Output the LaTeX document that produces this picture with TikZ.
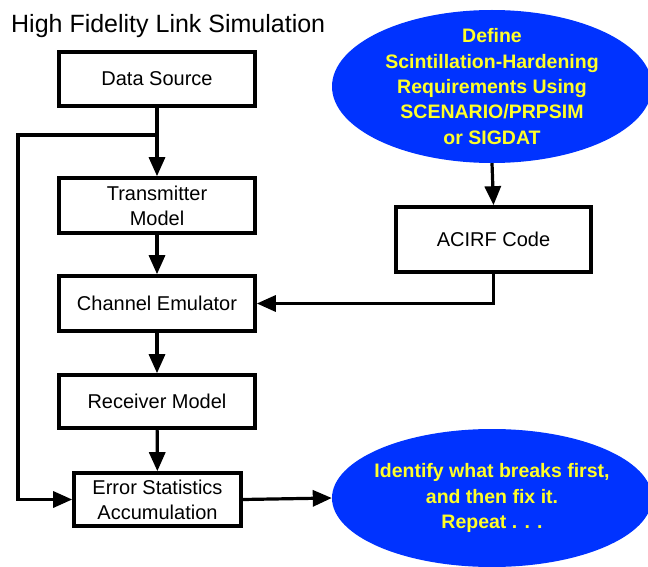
\documentclass[tikz,border=0pt]{standalone}
\usepackage{fontspec}
\setmainfont{Liberation Sans}
\usetikzlibrary{arrows.meta,shapes.geometric}
\definecolor{ovalblue}{RGB}{0,51,255}
\definecolor{ovaltext}{RGB}{255,255,40}

\begin{document}
\begin{tikzpicture}[x=1pt,y=-1pt,
  block/.style={draw, line width=3.6pt, align=center, inner sep=0pt,
    minimum width=196pt, minimum height=54pt,
    font=\fontsize{20}{25}\selectfont},
  oval/.style={ellipse, fill=ovalblue, draw=none, inner sep=0pt,
    minimum width=320pt},
  ovaltxt/.style={align=center, text=ovaltext, inner sep=0pt,
    font=\fontsize{19.5}{25.3}\selectfont\bfseries},
  link/.style={line width=3.2pt, -{Triangle[length=19pt,width=16pt]}},
]
\useasboundingbox (0,0) rectangle (648,567);
\clip (0,0) rectangle (648,567);

% title
\node[anchor=base west, inner sep=0pt, font=\fontsize{25}{30}\selectfont]
  (title) at (11,33) {High Fidelity Link Simulation};

% main simulation chain
\node[block, minimum height=54pt] (ds) at (157,79) {Data Source};
\node[block, minimum height=55pt] (tx) at (157,205.5) {Transmitter\\Model};
\node[block, minimum height=55pt] (ch) at (157,303.5) {Channel Emulator};
\node[block, minimum height=53pt] (rx) at (157,401.5) {Receiver Model};
\node[block, minimum width=167pt, minimum height=53pt] (err) at (157.5,499.5)
  {Error Statistics\\Accumulation};

% channel definition branch
\node[oval, minimum height=153pt] (req) at (492,86.5) {};
\node[ovaltxt] (reqtext) at (req.center)
  {Define\\Scintillation-Hardening\\Requirements Using\\SCENARIO/PRPSIM\\or SIGDAT};
\node[block, minimum width=195pt, minimum height=65pt] (acirf) at (493.5,239.5)
  {ACIRF Code};

% outcome
\node[oval, minimum height=138pt] (fix) at (492,498) {};
\node[ovaltxt] (fixtext) at (fix.center)
  {Identify what breaks first,\\and then fix it.\\Repeat . . .};

% connectors
\coordinate (split) at (157,135);
\coordinate (loopcorner) at (18,135);
\draw[link] (ds) -- (tx);
\draw[link] (split) -- (loopcorner) |- (err.west);
\draw[link] (tx) -- (ch);
\draw[link] (ch) -- (rx);
\draw[link] (rx) -- (err);
\draw[link] (req.south) -- (acirf.north);
\draw[link] (acirf.south) |- (ch.east);
\draw[link] (err.east) -- (fix.west);
\end{tikzpicture}
\end{document}
